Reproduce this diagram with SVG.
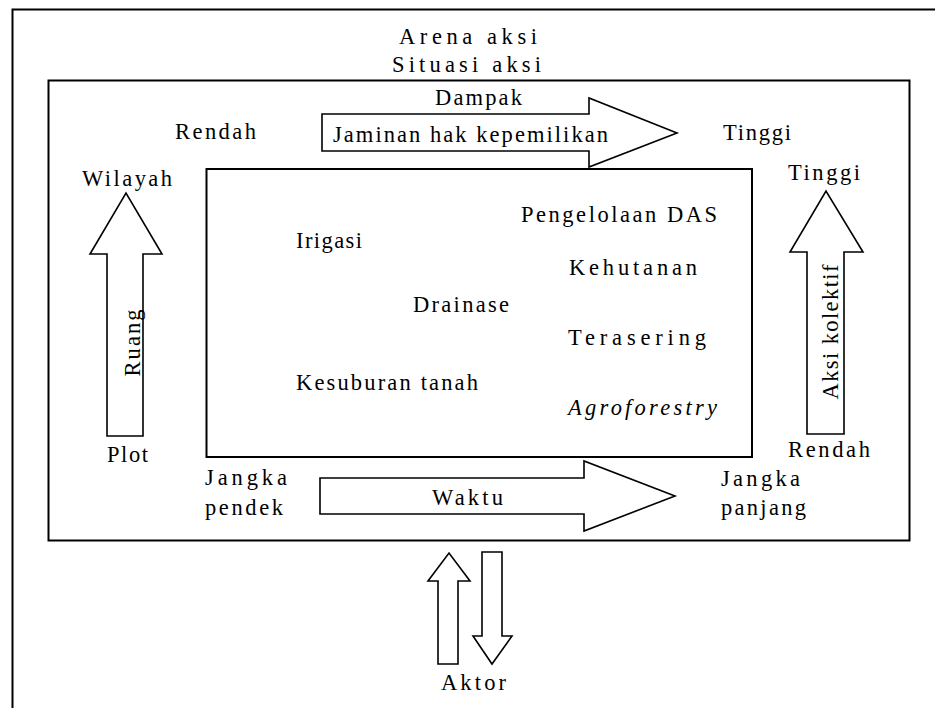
<svg xmlns="http://www.w3.org/2000/svg" width="935" height="708" viewBox="0 0 935 708">
<style>
.frame{fill:none;stroke:#000;stroke-width:2}
.arr{fill:#fff;stroke:#000;stroke-width:1.6;stroke-linejoin:miter}
text{font-family:"Liberation Serif","Times New Roman",serif;font-size:22.5px;fill:#000}
.it{font-style:italic}
</style>
<rect width="935" height="708" fill="#fff"/>
<g id="arena">
<path class="frame" d="M12.5,708 V9.5 H935"/>
<text x="399" y="44" textLength="138" lengthAdjust="spacing">Arena aksi</text>
<text x="392" y="72" textLength="149" lengthAdjust="spacing">Situasi aksi</text>
<text x="441" y="690" textLength="65" lengthAdjust="spacing">Aktor</text>
</g>
<g id="situasi">
<rect class="frame" x="48.5" y="80.5" width="861" height="460"/>
<text x="175" y="139" textLength="81" lengthAdjust="spacing">Rendah</text>
<text x="723" y="140" textLength="68" lengthAdjust="spacing">Tinggi</text>
<text x="82" y="186" textLength="90" lengthAdjust="spacing">Wilayah</text>
<text x="107" y="462" textLength="41" lengthAdjust="spacing">Plot</text>
<text x="788" y="180" textLength="72" lengthAdjust="spacing">Tinggi</text>
<text x="788" y="457" textLength="82" lengthAdjust="spacing">Rendah</text>
<text x="205" y="485" textLength="82" lengthAdjust="spacing">Jangka</text>
<text x="205" y="515" textLength="78" lengthAdjust="spacing">pendek</text>
<text x="721" y="486" textLength="79" lengthAdjust="spacing">Jangka</text>
<text x="721" y="515" textLength="85" lengthAdjust="spacing">panjang</text>
</g>
<g id="dampak">
<rect class="frame" x="206.5" y="169" width="545.5" height="288"/>
<text x="521" y="222" textLength="196" lengthAdjust="spacing">Pengelolaan DAS</text>
<text x="296" y="248" textLength="66" lengthAdjust="spacing">Irigasi</text>
<text x="569" y="275" textLength="128" lengthAdjust="spacing">Kehutanan</text>
<text x="413" y="312" textLength="96" lengthAdjust="spacing">Drainase</text>
<text x="568" y="345" textLength="138" lengthAdjust="spacing">Terasering</text>
<text x="296" y="390" textLength="182" lengthAdjust="spacing">Kesuburan tanah</text>
<text class="it" x="568" y="415" textLength="149" lengthAdjust="spacing">Agroforestry</text>
</g>
<g id="connectors">
<g id="arrow-jaminan">
<polygon class="arr" points="322,114 589,114 589,98 677,133 589,167 589,151 322,151"/>
<text x="435" y="105" textLength="87" lengthAdjust="spacing">Dampak</text>
<text x="333" y="142" textLength="275" lengthAdjust="spacing">Jaminan hak kepemilikan</text>
</g>
<g id="arrow-waktu">
<polygon class="arr" points="320,478 584,478 584,461 675,496 584,531 584,514 320,514"/>
<text x="432" y="505" textLength="71" lengthAdjust="spacing">Waktu</text>
</g>
<g id="arrow-ruang">
<polygon class="arr" points="107,436 107,254 90,254 126,193 162,254 143,254 143,436"/>
<text transform="translate(140,343) rotate(-90)" text-anchor="middle" textLength="67" lengthAdjust="spacing">Ruang</text>
</g>
<g id="arrow-aksi">
<polygon class="arr" points="807,434 807,252 790,252 826,191 863,252 844,252 844,434"/>
<text transform="translate(838,332) rotate(-90)" text-anchor="middle" textLength="135" lengthAdjust="spacing">Aksi kolektif</text>
</g>
<g id="arrow-aktor-up">
<polygon class="arr" points="438,664 438,581 428,581 449,553 470,581 458,581 458,664"/>
</g>
<g id="arrow-aktor-down">
<polygon class="arr" points="482,552 502,552 502,636 512,636 492,664 473,636 482,636"/>
</g>
</g>
</svg>
